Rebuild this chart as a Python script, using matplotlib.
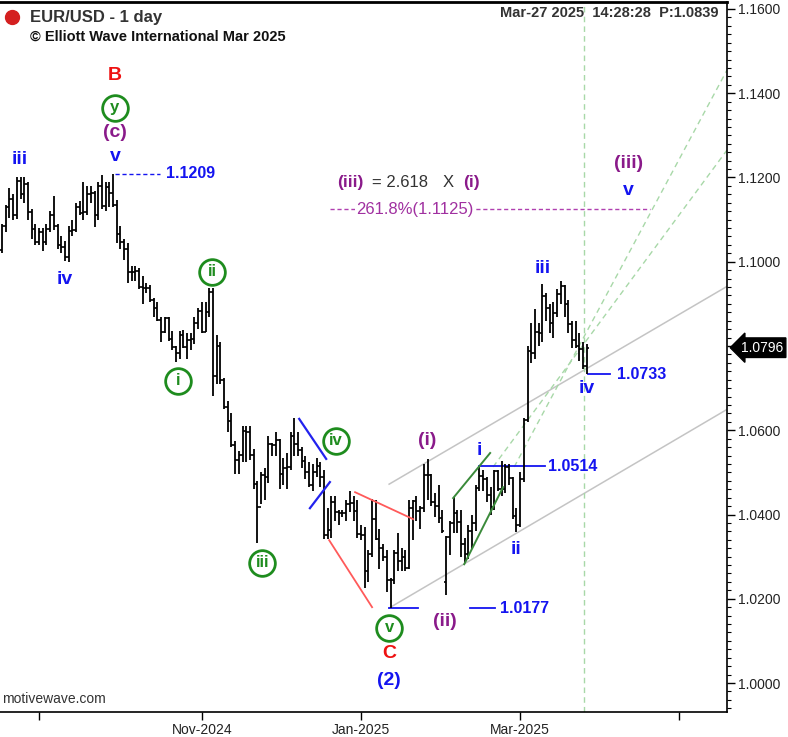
import numpy as np
import pandas as pd
import matplotlib
matplotlib.use('Agg')
import matplotlib.pyplot as plt
import matplotlib.transforms as mtransforms

plt.rcParams['font.family'] = ['Liberation Sans', 'DejaVu Sans']

# daily EUR/USD bars, 2024-08-19 .. 2025-03-27 (business days)
dates = pd.bdate_range('2024-08-19', '2025-03-27')

opens = [
    # Aug
    1.1027, 1.1085, 1.1130, 1.1150, 1.1112, 1.1192, 1.1162, 1.1184, 1.1118, 1.1077,
    # Sep
    1.1048, 1.1071, 1.1046, 1.1077, 1.1110, 1.1085, 1.1040, 1.1035, 1.1012, 1.1073, 1.1076,
    1.1131, 1.1116, 1.1118, 1.1162, 1.1164, 1.1111, 1.1179, 1.1133, 1.1177, 1.1164,
    # Oct
    1.1135, 1.1067, 1.1046, 1.1030, 1.0976, 1.0975, 1.0979, 1.0940, 1.0937, 1.0937, 1.0910,
    1.0891, 1.0862, 1.0833, 1.0867, 1.0817, 1.0797, 1.0783, 1.0827, 1.0797, 1.0815, 1.0817, 1.0855,
    # Nov
    1.0884, 1.0833, 1.0880, 1.0929, 1.0729, 1.0800, 1.0719, 1.0655, 1.0622, 1.0565, 1.0530,
    1.0541, 1.0599, 1.0595, 1.0542, 1.0472, 1.0418, 1.0494, 1.0489, 1.0567, 1.0565,
    # Dec
    1.0577, 1.0497, 1.0510, 1.0512, 1.0586, 1.0567, 1.0553, 1.0527, 1.0500, 1.0470, 1.0502,
    1.0514, 1.0489, 1.0351, 1.0364, 1.0430, 1.0407, 1.0404, 1.0403, 1.0424, 1.0427, 1.0409,
    # Jan
    1.0354, 1.0352, 1.0265, 1.0307, 1.0390, 1.0342, 1.0320, 1.0300, 1.0244, 1.0244, 1.0308,
    1.0290, 1.0300, 1.0272, 1.0416, 1.0432, 1.0408, 1.0415, 1.0494, 1.0494, 1.0430, 1.0420, 1.0392,
    # Feb
    1.0240, 1.0346, 1.0379, 1.0404, 1.0382, 1.0330, 1.0307, 1.0362, 1.0380, 1.0463,
    1.0491, 1.0484, 1.0447, 1.0418, 1.0503, 1.0461, 1.0461, 1.0513, 1.0486, 1.0397,
    # Mar
    1.0376, 1.0485, 1.0625, 1.0789, 1.0783, 1.0833, 1.0832, 1.0918, 1.0890, 1.0854,
    1.0879, 1.0923, 1.0943, 1.0899, 1.0853, 1.0815, 1.0801, 1.0792, 1.0753,
]
highs = [
    1.1090, 1.1134, 1.1174, 1.1160, 1.1201, 1.1202, 1.1200, 1.1189, 1.1126, 1.1090,
    1.1080, 1.1080, 1.1090, 1.1120, 1.1155, 1.1090, 1.1060, 1.1050, 1.1085, 1.1100, 1.1140,
    1.1145, 1.1189, 1.1180, 1.1180, 1.1168, 1.1190, 1.1207, 1.1190, 1.1190, 1.1209,
    1.1146, 1.1085, 1.1055, 1.1045, 1.0990, 1.0990, 1.0985, 1.0965, 1.0950, 1.0945, 1.0915,
    1.0905, 1.0870, 1.0870, 1.0868, 1.0835, 1.0800, 1.0835, 1.0837, 1.0830, 1.0830, 1.0870, 1.0890,
    1.0905, 1.0905, 1.0937, 1.0937, 1.0826, 1.0810, 1.0725, 1.0670, 1.0640, 1.0575, 1.0550,
    1.0610, 1.0610, 1.0610, 1.0555, 1.0480, 1.0500, 1.0510, 1.0587, 1.0570, 1.0597,
    1.0580, 1.0535, 1.0545, 1.0595, 1.0630, 1.0595, 1.0560, 1.0540, 1.0525, 1.0520, 1.0535,
    1.0525, 1.0505, 1.0415, 1.0445, 1.0445, 1.0410, 1.0410, 1.0435, 1.0455, 1.0445, 1.0435,
    1.0375, 1.0370, 1.0315, 1.0437, 1.0435, 1.0365, 1.0330, 1.0315, 1.0250, 1.0315, 1.0355,
    1.0320, 1.0315, 1.0435, 1.0435, 1.0445, 1.0420, 1.0521, 1.0532, 1.0495, 1.0450, 1.0470, 1.0410,
    1.0348, 1.0385, 1.0442, 1.0410, 1.0410, 1.0345, 1.0375, 1.0400, 1.0470, 1.0514,
    1.0505, 1.0490, 1.0465, 1.0505, 1.0505, 1.0528, 1.0520, 1.0520, 1.0490, 1.0415,
    1.0500, 1.0630, 1.0800, 1.0854, 1.0888, 1.0855, 1.0947, 1.0925, 1.0900, 1.0905,
    1.0935, 1.0955, 1.0945, 1.0910, 1.0860, 1.0860, 1.0830, 1.0810, 1.0805,
]
lows = [
    1.1020, 1.1070, 1.1105, 1.1100, 1.1102, 1.1150, 1.1140, 1.1100, 1.1055, 1.1040,
    1.1040, 1.1025, 1.1040, 1.1070, 1.1075, 1.1030, 1.1020, 1.1002, 1.1000, 1.1060, 1.1070,
    1.1110, 1.1100, 1.1110, 1.1140, 1.1082, 1.1100, 1.1125, 1.1120, 1.1130, 1.1130,
    1.1045, 1.1030, 1.1005, 1.0950, 1.0955, 1.0955, 1.0935, 1.0900, 1.0925, 1.0905, 1.0870,
    1.0860, 1.0810, 1.0830, 1.0811, 1.0790, 1.0761, 1.0770, 1.0795, 1.0770, 1.0790, 1.0805, 1.0840,
    1.0830, 1.0833, 1.0870, 1.0682, 1.0710, 1.0710, 1.0650, 1.0595, 1.0560, 1.0497, 1.0496,
    1.0525, 1.0525, 1.0530, 1.0460, 1.0332, 1.0425, 1.0435, 1.0475, 1.0540, 1.0540,
    1.0460, 1.0470, 1.0460, 1.0505, 1.0540, 1.0540, 1.0510, 1.0485, 1.0465, 1.0455, 1.0490,
    1.0465, 1.0343, 1.0343, 1.0345, 1.0385, 1.0375, 1.0395, 1.0385, 1.0405, 1.0385, 1.0345,
    1.0340, 1.0226, 1.0240, 1.0300, 1.0340, 1.0270, 1.0290, 1.0215, 1.0178, 1.0235, 1.0265,
    1.0267, 1.0265, 1.0270, 1.0340, 1.0385, 1.0365, 1.0405, 1.0435, 1.0420, 1.0395, 1.0380, 1.0355,
    1.0210, 1.0305, 1.0355, 1.0355, 1.0300, 1.0285, 1.0295, 1.0317, 1.0360, 1.0455,
    1.0455, 1.0430, 1.0400, 1.0410, 1.0455, 1.0445, 1.0450, 1.0470, 1.0390, 1.0359,
    1.0370, 1.0478, 1.0620, 1.0760, 1.0770, 1.0800, 1.0810, 1.0860, 1.0830, 1.0820,
    1.0870, 1.0900, 1.0870, 1.0830, 1.0796, 1.0795, 1.0765, 1.0745, 1.0733,
]
closes = [
    1.1085, 1.1130, 1.1150, 1.1112, 1.1192, 1.1162, 1.1184, 1.1118, 1.1077, 1.1048,
    1.1071, 1.1046, 1.1077, 1.1110, 1.1085, 1.1040, 1.1035, 1.1012, 1.1073, 1.1076, 1.1131,
    1.1116, 1.1118, 1.1162, 1.1164, 1.1111, 1.1179, 1.1133, 1.1177, 1.1164, 1.1135,
    1.1067, 1.1046, 1.1030, 1.0976, 1.0975, 1.0979, 1.0940, 1.0937, 1.0937, 1.0910, 1.0891,
    1.0862, 1.0833, 1.0867, 1.0817, 1.0797, 1.0783, 1.0827, 1.0797, 1.0815, 1.0817, 1.0855, 1.0884,
    1.0833, 1.0880, 1.0929, 1.0729, 1.0800, 1.0719, 1.0655, 1.0622, 1.0565, 1.0530, 1.0541,
    1.0599, 1.0595, 1.0542, 1.0472, 1.0418, 1.0494, 1.0489, 1.0567, 1.0565, 1.0577,
    1.0497, 1.0510, 1.0512, 1.0586, 1.0567, 1.0553, 1.0527, 1.0500, 1.0470, 1.0502, 1.0514,
    1.0489, 1.0351, 1.0364, 1.0430, 1.0407, 1.0404, 1.0403, 1.0424, 1.0427, 1.0409, 1.0354,
    1.0352, 1.0265, 1.0307, 1.0390, 1.0342, 1.0320, 1.0300, 1.0244, 1.0244, 1.0308, 1.0290,
    1.0300, 1.0272, 1.0416, 1.0432, 1.0408, 1.0415, 1.0494, 1.0494, 1.0430, 1.0420, 1.0392, 1.0362,
    1.0346, 1.0379, 1.0404, 1.0382, 1.0330, 1.0307, 1.0362, 1.0380, 1.0463, 1.0491,
    1.0484, 1.0447, 1.0418, 1.0503, 1.0461, 1.0461, 1.0513, 1.0486, 1.0397, 1.0376,
    1.0485, 1.0625, 1.0789, 1.0783, 1.0833, 1.0832, 1.0918, 1.0890, 1.0854, 1.0879,
    1.0923, 1.0943, 1.0899, 1.0853, 1.0815, 1.0801, 1.0792, 1.0753, 1.0796,
]

last_price = 1.0796
fib_level = 1.1125
tick_months = ['2024-09', '2024-11', '2025-01', '2025-03', '2025-05']
tick_texts = ['', 'Nov-2024', 'Jan-2025', 'Mar-2025', '']

# trend / channel lines: (bar index, price) pairs
blue_lines = [[(80.3, 1.0627), (87.6, 1.0532)], [(83.2, 1.0415), (88.6, 1.0477)]]
red_lines = [[(95.4, 1.0453), (111.1, 1.0389)], [(88.4, 1.0339), (100.0, 1.0180)]]
green_lines = [[(121.9, 1.0439), (131.9, 1.0546)], [(124.9, 1.0282), (135.4, 1.0465)]]
gray_lines = [[(104.6, 1.0472), (196.0, 1.0942)], [(104.6, 1.0178), (196.0, 1.0650)]]
fan_lines = [[(138.4, 1.0513), (195.9, 1.1455)], [(132.7, 1.0513), (195.9, 1.1265)]]

BLUE = '#1414f0'
PURPLE = '#8a1a8a'
GREEN = '#1e8c1e'
RED = '#ee1111'

n = len(dates)
x = np.arange(n)
fig = plt.figure(figsize=(7.88, 7.37), dpi=100)
ax = fig.add_axes([0, 25 / 737, 727 / 788, 710 / 737])

ax.vlines(x, lows, highs, color='black', lw=1.3, zorder=3)
ax.hlines(opens, x - 0.5, x, color='black', lw=1.2, zorder=3)
ax.hlines(closes, x, x + 0.5, color='black', lw=1.2, zorder=3)

ax.set_xlim(-0.54, 195.9)
ax.set_ylim(0.99312, 1.16166)

for seg in gray_lines:
    ax.plot(*zip(*seg), color='#c4c4c4', lw=1.1, zorder=1)
for seg in fan_lines:
    ax.plot(*zip(*seg), color='#a8d8a8', lw=1, ls=(0, (4, 3)), zorder=1)
ax.axvline(157.3, color='#a8d8a8', lw=1, ls=(0, (4, 3)), zorder=1)
for seg in blue_lines:
    ax.plot(*zip(*seg), color='#2222ee', lw=1.6, zorder=4)
for seg in red_lines:
    ax.plot(*zip(*seg), color='#ff5a5a', lw=1.3, zorder=4)
for seg in green_lines:
    ax.plot(*zip(*seg), color='#3a8a3a', lw=1.4, zorder=4)

# level markers
ax.plot([30.5, 42.7], [1.1209, 1.1209], color=BLUE, lw=1, ls=(0, (3, 2)))
ax.text(44.3, 1.1209, '1.1209', color=BLUE, fontsize=11.5, fontweight='bold', va='center')
ax.plot([104.6, 112.4], [1.0177, 1.0177], color=BLUE, lw=1.3)
ax.plot([126.5, 133.2], [1.0177, 1.0177], color=BLUE, lw=1.3)
ax.text(134.6, 1.0177, '1.0177', color=BLUE, fontsize=11.5, fontweight='bold', va='center')
ax.plot([128.9, 146.8], [1.0514, 1.0514], color=BLUE, lw=1.3)
ax.text(147.6, 1.0514, '1.0514', color=BLUE, fontsize=11.5, fontweight='bold', va='center')
ax.plot([158.4, 164.3], [1.0733, 1.0733], color=BLUE, lw=1.3)
ax.text(166.2, 1.0733, '1.0733', color=BLUE, fontsize=11.5, fontweight='bold', va='center')

# fib target
ax.plot([88.6, 175.1], [fib_level, fib_level], color='#b040b0', lw=1, ls=(0, (3, 2)))
ax.text(111.6, fib_level, '261.8%(1.1125)', color='#a030a0', fontsize=12, ha='center', va='center',
        bbox=dict(fc='white', ec='none', pad=1))
ax.text(94.1, 1.1187, '(iii)', color=PURPLE, fontsize=12.5, fontweight='bold', ha='center', va='center')
ax.text(100.0, 1.1187, '= 2.618', color='#333333', fontsize=12, ha='left', va='center')
ax.text(120.5, 1.1187, 'X', color='#333333', fontsize=12, ha='center', va='center')
ax.text(126.8, 1.1187, '(i)', color=PURPLE, fontsize=12.5, fontweight='bold', ha='center', va='center')

# wave labels
plain_labels = [
    (30.5, 1.1443, 'B', RED), (30.5, 1.1308, '(c)', PURPLE), (30.5, 1.1249, 'v', BLUE),
    (4.9, 1.1242, 'iii', BLUE), (17.0, 1.0957, 'iv', BLUE),
    (104.6, 1.0069, 'C', RED), (104.6, 1.0005, '(2)', BLUE),
    (114.9, 1.0575, '(i)', PURPLE), (119.7, 1.0147, '(ii)', PURPLE),
    (128.9, 1.0553, 'i', BLUE), (138.9, 1.0318, 'ii', BLUE),
    (146.2, 1.0985, 'iii', BLUE), (158.1, 1.0700, 'iv', BLUE),
    (169.2, 1.1234, '(iii)', PURPLE), (169.2, 1.1170, 'v', BLUE),
]
for lx, ly, txt, col in plain_labels:
    ax.text(lx, ly, txt, color=col, fontsize=14, fontweight='bold', ha='center', va='center', zorder=6)

circled = [(30.5, 1.1365, 'y'), (56.8, 1.0976, 'ii'), (47.6, 1.0717, 'i'),
           (70.3, 1.0285, 'iii'), (90.3, 1.0575, 'iv'), (104.6, 1.0131, 'v')]
for lx, ly, txt in circled:
    ax.plot(lx, ly, 'o', ms=18.5, mfc='white', mec=GREEN, mew=2, zorder=6)
    ax.text(lx, ly, txt, color=GREEN, fontsize=12, fontweight='bold', ha='center', va='center', zorder=7)

# axes styling (the 1.08 label sits under the price tag)
yt = np.arange(1.0, 1.1601, 0.02)
ax.yaxis.tick_right()
ax.set_yticks(yt)
ax.set_yticklabels(['' if abs(v - 1.08) < 1e-6 else '%.4f' % v for v in yt])
ax.set_yticks(np.arange(0.994, 1.1616, 0.002), minor=True)
tick_pos = [int(np.searchsorted(pd.bdate_range('2024-08-19', '2025-06-30'), pd.Timestamp(m + '-01')))
            for m in tick_months]
ax.set_xticks(tick_pos)
ax.set_xticklabels(tick_texts)
ax.tick_params(axis='y', which='major', length=6, width=1, labelsize=10, labelcolor='#222222', pad=2)
ax.tick_params(axis='y', which='minor', length=3, width=0.8)
ax.tick_params(axis='x', length=6, width=1, labelsize=10, labelcolor='#222222', pad=2)
ax.spines['left'].set_visible(False)
ax.spines['top'].set_linewidth(2)
ax.spines['right'].set_linewidth(1.2)
ax.spines['bottom'].set_linewidth(1.2)

# current price tag
tr = mtransforms.blended_transform_factory(ax.transAxes, ax.transData)
ax.text(1.019, last_price, '%.4f' % last_price, transform=tr, color='white', fontsize=10,
        va='center', ha='left', bbox=dict(boxstyle='larrow,pad=0.2', fc='black', ec='black'), zorder=8)

# header
ax.plot(12 / 727, (712 - 17) / 710, 'o', ms=10, color='#d42020', transform=ax.transAxes, clip_on=False)
ax.text(30 / 727, (712 - 17) / 710, 'EUR/USD - 1 day', transform=ax.transAxes, fontsize=12,
        fontweight='bold', color='#333333', va='center')
ax.text(30 / 727, (712 - 37) / 710, '\u00a9 Elliott Wave International Mar 2025', transform=ax.transAxes,
        fontsize=10.5, fontweight='bold', color='#111111', va='center')
ax.text(718 / 727, (712 - 13) / 710, 'Mar-27 2025  14:28:28  P:1.0839', transform=ax.transAxes,
        fontsize=10.5, fontweight='bold', color='#333333', va='center', ha='right')
ax.text(2 / 727, (712 - 699) / 710, 'motivewave.com', transform=ax.transAxes, fontsize=10,
        color='#333333', va='center')

fig.savefig('out.png', dpi=100)
